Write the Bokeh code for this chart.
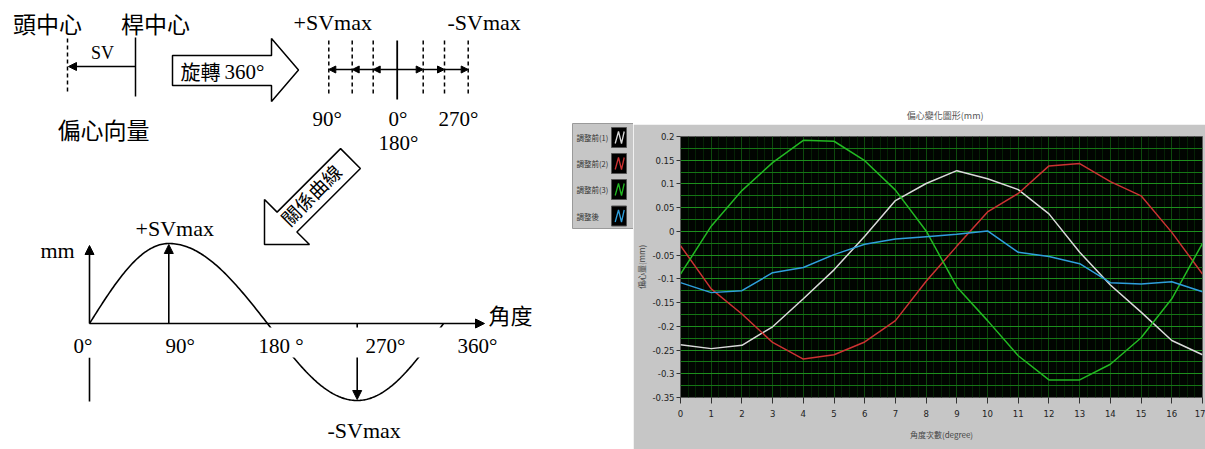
import numpy as np
from bokeh.plotting import figure
from bokeh.models import (Range1d, FixedTicker, CustomJSTickFormatter, Arrow,
                          NormalHead, ColumnDataSource)
from bokeh.layouts import row, column
from bokeh.core.properties import value
from bokeh.embed import file_html
from bokeh.resources import INLINE

# ------------------------------------------------------------------ chart data
angle_index = list(range(18))
before_adj_1 = [-0.239, -0.247, -0.240, -0.201, -0.142, -0.081, -0.010, 0.065, 0.101,
                0.128, 0.111, 0.088, 0.037, -0.044, -0.113, -0.170, -0.230, -0.260]
before_adj_2 = [-0.030, -0.121, -0.174, -0.234, -0.269, -0.260, -0.233, -0.188, -0.105,
                -0.031, 0.041, 0.080, 0.138, 0.143, 0.105, 0.075, -0.002, -0.090]
before_adj_3 = [-0.090, 0.011, 0.086, 0.145, 0.192, 0.190, 0.149, 0.087, 0.001,
                -0.117, -0.188, -0.262, -0.313, -0.313, -0.280, -0.224, -0.142, -0.025]
after_adj = [-0.108, -0.129, -0.125, -0.087, -0.076, -0.049, -0.027, -0.016, -0.011,
             -0.006, 0.001, -0.044, -0.053, -0.068, -0.108, -0.111, -0.106, -0.127]
series_names = ["調整前(1)", "調整前(2)", "調整前(3)", "調整後"]
y_tick_values = [0.2, 0.15, 0.1, 0.05, 0.0, -0.05, -0.1, -0.15, -0.2, -0.25, -0.3, -0.35]
chart_title = "偏心變化圖形(mm)"
x_axis_title = "角度次數(degree)"
y_axis_title = "偏心量(mm)"

# ------------------------------------------------------------------ schematic data
curve_deg_knots = [0, 90, 180, 270, 360]
curve_labels = ["0°", "90°", "180 °", "270°", "360°"]
phase_labels = ["90°", "0°", "270°", "180°"]

# ------------------------------------------------------------------ styles
series_colors = ["#dadada", "#cc3232", "#22b922", "#2f9fdc"]
CJK_NAME = "Noto Sans CJK TC"
NARROW_NAME = "DejaVu Sans Condensed"
CJK = value(CJK_NAME)
SERIF = value("Liberation Serif")
PANEL = "#c6c6c6"

W_LEFT, W_RIGHT, H_ALL, H_TITLE = 633, 572, 449, 124

# ================================================================== left schematic
d = figure(width=W_LEFT, height=H_ALL, x_range=Range1d(0, W_LEFT),
           y_range=Range1d(H_ALL, 0),
           output_backend="svg", toolbar_location=None, min_border=0,
           outline_line_color=None, background_fill_color="white",
           border_fill_color="white")
d.xaxis.visible = False
d.yaxis.visible = False
d.grid.visible = False


def txt(fig, x, y, s, size, font, align="left", angle=0.0, color="black", level="overlay"):
    fig.text(x=[x], y=[y], text=[s], text_font=font, text_font_size=size,
             text_align=align, text_baseline="middle", angle=angle,
             text_color=color, level=level)


def arrows(fig, x0, y0, x1, y1, size=7, width=1.5):
    src = ColumnDataSource(dict(x0=x0, y0=y0, x1=x1, y1=y1))
    fig.add_layout(Arrow(x_start="x0", y_start="y0", x_end="x1", y_end="y1",
                         source=src, line_width=width, line_color="black",
                         end=NormalHead(size=size, fill_color="black",
                                        line_color="black", line_width=1)))


# --- eccentric vector: head centre / rod centre
d.segment(x0=[67], y0=[38], x1=[67], y1=[94], line_dash="4 3", line_width=1.5,
          line_color="black")
d.segment(x0=[135], y0=[37], x1=[135], y1=[96], line_width=1.5, line_color="black")
arrows(d, [135], [66], [68], [66], size=8)

# --- big hollow "rotate" arrow
sx0, sx1, sy0, sy1, hy0, hy1, tipx = 172, 271, 55, 85, 38, 101, 298
d.patch([sx0, sx1, sx1, tipx, sx1, sx1, sx0], [sy0, sy0, hy0, (hy0 + hy1) / 2, hy1, sy1, sy1],
        fill_color="white", line_color="black", line_width=1.5)

# --- phase ruler
ruler_x = [328.3, 351.7, 372.7, 396.7, 422.7, 444.0, 467.7]
for i, xv in enumerate(ruler_x):
    if i == 3:
        d.segment(x0=[xv], y0=[40], x1=[xv], y1=[99], line_width=1.8, line_color="black")
    else:
        d.segment(x0=[xv], y0=[40], x1=[xv], y1=[95], line_dash="4 3", line_width=1.5,
                  line_color="black")
arrows(d, [ruler_x[1], ruler_x[2], ruler_x[3], ruler_x[3], ruler_x[4], ruler_x[5]],
       [69] * 6,
       [ruler_x[0], ruler_x[1], ruler_x[2], ruler_x[4], ruler_x[5], ruler_x[6]],
       [69] * 6, size=7)

# --- diagonal hollow arrow
tip = np.array([264.0, 244.0])
dvec = np.array([-1.0, 1.0]) / np.sqrt(2)
nvec = np.array([1.0, 1.0]) / np.sqrt(2)
head_len, head_half, shaft_half, total_len = 31.8, 31.8, 14.0, 121.6
base = tip - dvec * head_len
end = tip - dvec * total_len
pts = [tip, base + nvec * head_half, base + nvec * shaft_half, end + nvec * shaft_half,
       end - nvec * shaft_half, base - nvec * shaft_half, base - nvec * head_half]
d.patch([p[0] for p in pts], [p[1] for p in pts], fill_color="white",
        line_color="black", line_width=1.5)

# --- relation curve
deg = np.linspace(0, 360, 241)
curve_px_knots = [89, 168.3, 267, 356.7, 443]
px = np.interp(deg, curve_deg_knots, curve_px_knots)
sn = np.sin(np.radians(deg))
py = 323 - np.where(sn >= 0, 80, 77) * sn
d.line(px, py, line_color="black", line_width=1.6)
peak_x = float(np.interp(90, curve_deg_knots, curve_px_knots))
trough_x = float(np.interp(270, curve_deg_knots, curve_px_knots))
d.segment(x0=[89], y0=[357], x1=[89], y1=[401], line_width=1.6, line_color="black")
arrows(d, [89, 89, peak_x, trough_x], [323, 323, 323, 323],
       [89, 484, peak_x, trough_x], [245, 323, 244, 399], size=9, width=1.6)

# white label band hiding the curve behind the degree labels
d.quad(left=[70], right=[452], top=[327], bottom=[357], fill_color="white",
       line_color=None, level="overlay")

# --- texts
txt(d, 47, 22, "頭中心", "23px", CJK, "center")
txt(d, 155, 22, "桿中心", "23px", CJK, "center")
txt(d, 102, 52, "SV", "18px", SERIF, "center")
txt(d, 200, 71, "旋轉", "20px", CJK, "center")
txt(d, 224, 71, "360°", "21px", SERIF)
txt(d, 103, 128, "偏心向量", "23px", CJK, "center")
txt(d, 293, 22, "+SVmax", "22px", SERIF)
txt(d, 447, 22, "-SVmax", "22px", SERIF)
for s, xv, yv in zip(phase_labels, [312, 388, 438, 378], [118, 118, 118, 142]):
    txt(d, xv, yv, s, "21px", SERIF)
txt(d, 310, 194, "關係曲線", "19px", CJK, "center", angle=np.pi / 4)
txt(d, 40, 250, "mm", "22px", SERIF)
txt(d, 135, 228, "+SVmax", "22px", SERIF)
txt(d, 327, 430, "-SVmax", "22px", SERIF)
txt(d, 488, 313, "角度", "22px", CJK)
for s, xv in zip(curve_labels, [73, 165, 258, 365, 457]):
    txt(d, xv, 345, s, "21px", SERIF)

# --- legend panel of the chart
d.quad(left=[572], right=[633], top=[123], bottom=[228], fill_color=PANEL,
       line_color="#9a9a9a", line_width=1)
box_tops = [127.0, 153.0, 179.0, 205.5]
zig_dx = [3.7, 7.0, 10.0, 12.7]
zig_dy = [16.0, 4.0, 16.0, 4.0]
for top, name, col in zip(box_tops, series_names, series_colors):
    d.quad(left=[611], right=[626], top=[top], bottom=[top + 20], fill_color="black",
           line_color="#555555")
    d.line([611 + v for v in zig_dx], [top + v for v in zig_dy], line_color=col,
           line_width=1.3)
    txt(d, 576, top + 10, name, "7.5px", CJK, color="#333333")

# ================================================================== title strip
t = figure(width=W_RIGHT, height=H_TITLE, x_range=Range1d(0, W_RIGHT),
           y_range=Range1d(H_TITLE, 0),
           output_backend="svg", toolbar_location=None, min_border=0,
           outline_line_color=None, background_fill_color="white",
           border_fill_color="white")
t.xaxis.visible = False
t.yaxis.visible = False
t.grid.visible = False
txt(t, 290, 115, chart_title, "9px", CJK, "center", color="#555555")

# ================================================================== chart
c = figure(width=W_RIGHT, height=H_ALL - H_TITLE, x_range=Range1d(0, 17),
           y_range=Range1d(-0.35, 0.2),
           output_backend="svg", toolbar_location=None,
           min_border_left=47, min_border_right=3, min_border_top=12,
           min_border_bottom=52, background_fill_color="#010501",
           border_fill_color=PANEL, outline_line_color="#5a5a5a")

x_minor = [i + f for i in angle_index[:-1] for f in (0.25, 0.5, 0.75)]
y_sorted = sorted(y_tick_values)
y_minor = [(a + b) / 2 for a, b in zip(y_sorted[:-1], y_sorted[1:])]

c.xgrid.ticker = FixedTicker(ticks=angle_index, minor_ticks=x_minor)
c.xgrid.grid_line_color = "#0d4a0d"
c.xgrid.minor_grid_line_color = "#052205"
c.ygrid.ticker = FixedTicker(ticks=y_tick_values, minor_ticks=y_minor)
c.ygrid.grid_line_color = "#1d8f1d"
c.ygrid.minor_grid_line_color = "#157515"

c.xaxis.ticker = FixedTicker(ticks=angle_index)
c.yaxis.ticker = FixedTicker(ticks=y_tick_values)
c.yaxis.formatter = CustomJSTickFormatter(
    code="return (Math.round(tick*1000)/1000).toString();")
for ax in (c.xaxis[0], c.yaxis[0]):
    ax.axis_line_color = None
    ax.minor_tick_line_color = None
    ax.major_tick_line_color = "#333333"
    ax.major_tick_in = 0
    ax.major_label_text_font = NARROW_NAME
    ax.major_label_text_font_size = "9.5px"
    ax.major_label_text_color = "#222222"
    ax.axis_label_text_font = CJK_NAME
    ax.axis_label_text_font_size = "8px"
    ax.axis_label_text_font_style = "normal"
    ax.axis_label_text_color = "#444444"
c.xaxis.major_tick_out = 6
c.yaxis.major_tick_out = 4
c.xaxis.major_label_standoff = 6
c.yaxis.major_label_standoff = 2
c.xaxis.axis_label = x_axis_title
c.yaxis.axis_label = y_axis_title
c.xaxis.axis_label_standoff = 9
c.yaxis.axis_label_standoff = 2

for ys, col in zip([before_adj_1, before_adj_2, before_adj_3, after_adj], series_colors):
    c.line(angle_index, ys, line_color=col, line_width=1.5)

layout = row(d, column(t, c))
open("out.html", "w").write(file_html(layout, INLINE))
